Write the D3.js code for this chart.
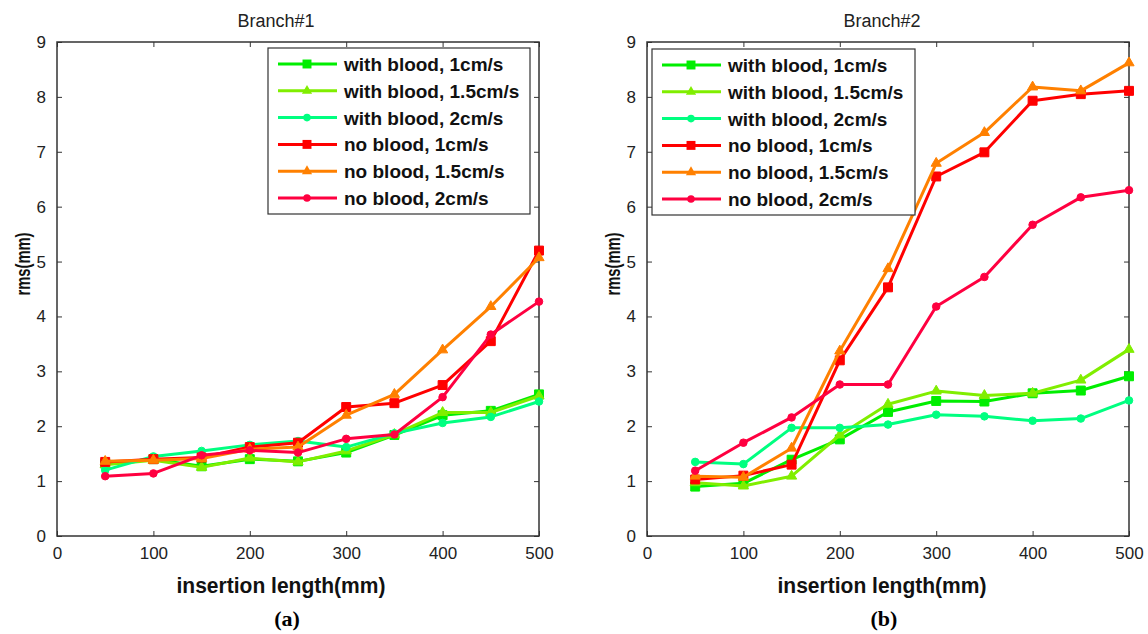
<!DOCTYPE html>
<html>
<head>
<meta charset="utf-8">
<script src="https://cdn.jsdelivr.net/npm/d3@7"></script>
<style>
  body { margin: 0; background: #fff; }
  text { font-family: Arial, "Liberation Sans", sans-serif; }
</style>
</head>
<body>
<div id="chart"></div>
<script>
// insertion length (mm)
var lengths = [50, 100, 150, 200, 250, 300, 350, 400, 450, 500];

var seriesNames = ["with blood, 1cm/s", "with blood, 1.5cm/s", "with blood, 2cm/s",
                   "no blood, 1cm/s", "no blood, 1.5cm/s", "no blood, 2cm/s"];
var seriesColors = ["#00ee00", "#80ee00", "#00ff80", "#ff0000", "#ff8000", "#ff0040"];
var seriesShapes = ["square", "triangle", "circle", "square", "triangle", "circle"];

// Branch#1 rms (mm)
var b1WithBlood1 = [1.32, 1.40, 1.27, 1.40, 1.36, 1.52, 1.84, 2.20, 2.28, 2.58];
var b1WithBlood15 = [1.30, 1.38, 1.25, 1.42, 1.35, 1.55, 1.85, 2.25, 2.25, 2.55];
var b1WithBlood2 = [1.20, 1.45, 1.55, 1.66, 1.73, 1.62, 1.87, 2.06, 2.17, 2.45];
var b1NoBlood1 = [1.35, 1.40, 1.43, 1.62, 1.70, 2.35, 2.42, 2.75, 3.55, 5.20];
var b1NoBlood15 = [1.36, 1.38, 1.41, 1.58, 1.62, 2.20, 2.58, 3.39, 4.18, 5.07];
var b1NoBlood2 = [1.09, 1.14, 1.47, 1.56, 1.52, 1.77, 1.85, 2.53, 3.67, 4.27];

// Branch#2 rms (mm)
var b2WithBlood1 = [0.90, 0.96, 1.39, 1.76, 2.26, 2.46, 2.45, 2.60, 2.65, 2.91];
var b2WithBlood15 = [0.97, 0.91, 1.09, 1.84, 2.40, 2.64, 2.56, 2.60, 2.84, 3.40];
var b2WithBlood2 = [1.35, 1.31, 1.97, 1.97, 2.03, 2.21, 2.18, 2.10, 2.14, 2.47];
var b2NoBlood1 = [1.03, 1.10, 1.30, 3.20, 4.53, 6.55, 6.99, 7.93, 8.05, 8.11];
var b2NoBlood15 = [1.09, 1.07, 1.60, 3.37, 4.87, 6.79, 7.35, 8.18, 8.11, 8.62];
var b2NoBlood2 = [1.19, 1.70, 2.16, 2.76, 2.76, 4.18, 4.72, 5.67, 6.17, 6.30];

var xTicks = [0, 100, 200, 300, 400, 500];
var yTicks = [0, 1, 2, 3, 4, 5, 6, 7, 8, 9];

var svg = d3.select("#chart")
  .append("svg")
  .attr("width", 1148)
  .attr("height", 634);

function shapeFor(name) {
  if (name == "square") return d3.symbol().type(d3.symbolSquare).size(80)();
  if (name == "triangle") return d3.symbol().type(d3.symbolTriangle).size(45)();
  return d3.symbol().type(d3.symbolCircle).size(45)();
}

function drawPanel(opts) {
  var left = opts.left, top = opts.top, width = 482, height = 494;
  var g = svg.append("g").attr("transform", "translate(" + left + "," + top + ")");

  var x = d3.scaleLinear().domain([0, 500]).range([0, width]);
  var y = d3.scaleLinear().domain([0, 9]).range([height, 0]);

  // title
  g.append("text")
    .attr("x", opts.titleX).attr("y", -15)
    .attr("text-anchor", "middle")
    .style("font-size", "18px")
    .attr("fill", "#222")
    .text(opts.title);

  // axes: ticks inside, box on four sides
  var tickStyle = function(sel) {
    sel.select(".domain").remove();
    sel.selectAll(".tick line").attr("stroke", "#333");
    sel.selectAll(".tick text").style("font-size", "17px").attr("fill", "#222");
  };
  g.append("g").attr("transform", "translate(0," + height + ")")
    .call(d3.axisBottom(x).tickValues(xTicks).tickSizeInner(-5).tickSizeOuter(0).tickPadding(11))
    .call(tickStyle);
  g.append("g")
    .call(d3.axisTop(x).tickValues(xTicks).tickSizeInner(-5).tickSizeOuter(0).tickFormat(""))
    .call(tickStyle);
  g.append("g")
    .call(d3.axisLeft(y).tickValues(yTicks).tickSizeInner(-5).tickSizeOuter(0).tickPadding(11))
    .call(tickStyle);
  g.append("g").attr("transform", "translate(" + width + ",0)")
    .call(d3.axisRight(y).tickValues(yTicks).tickSizeInner(-5).tickSizeOuter(0).tickFormat(""))
    .call(tickStyle);
  g.append("rect")
    .attr("width", width).attr("height", height)
    .attr("fill", "none").attr("stroke", "#333").attr("stroke-width", 1.5);

  // axis labels
  g.append("text")
    .attr("x", opts.labelX).attr("y", height + 57)
    .attr("text-anchor", "middle")
    .attr("textLength", 209).attr("lengthAdjust", "spacingAndGlyphs")
    .style("font-size", "22px").style("font-weight", "bold")
    .attr("fill", "#111")
    .text("insertion length(mm)");
  g.append("text")
    .attr("transform", "translate(-27,222) rotate(-90) scale(0.7,1)")
    .attr("text-anchor", "middle")
    .style("font-size", "21px").style("font-weight", "bold")
    .attr("fill", "#111")
    .text("rms(mm)");
  g.append("text")
    .attr("x", opts.captionX).attr("y", height + 90)
    .attr("text-anchor", "middle")
    .style("font-family", "'Liberation Serif', 'Times New Roman', serif")
    .style("font-size", "22px").style("font-weight", "bold")
    .text(opts.caption);

  var line = d3.line()
    .x(function(d, i) { return x(lengths[i]); })
    .y(function(d) { return y(d); });

  opts.series.forEach(function(vals, k) {
    g.append("path")
      .datum(vals)
      .attr("fill", "none")
      .attr("stroke", seriesColors[k])
      .attr("stroke-width", 3)
      .attr("stroke-linejoin", "round")
      .attr("d", line);
    g.append("g")
      .selectAll("path")
      .data(vals)
      .enter()
      .append("path")
      .attr("transform", function(d, i) { return "translate(" + x(lengths[i]) + "," + y(d) + ")"; })
      .attr("d", shapeFor(seriesShapes[k]))
      .attr("fill", seriesColors[k])
      .attr("stroke", seriesColors[k]);
  });

  // legend
  var lg = g.append("g").attr("transform", "translate(" + opts.legend[0] + "," + opts.legend[1] + ")");
  lg.append("rect")
    .attr("width", opts.legend[2]).attr("height", 166)
    .attr("fill", "#fff").attr("stroke", "#333").attr("stroke-width", 1.2);
  seriesNames.forEach(function(name, k) {
    var yy = 16 + k * 26.8;
    lg.append("line")
      .attr("x1", 10).attr("x2", 69).attr("y1", yy).attr("y2", yy)
      .attr("stroke", seriesColors[k]).attr("stroke-width", 3);
    lg.append("path")
      .attr("transform", "translate(39," + yy + ")")
      .attr("d", shapeFor(seriesShapes[k]))
      .attr("fill", seriesColors[k]);
    lg.append("text")
      .attr("x", 76).attr("y", yy + 7)
      .style("font-size", "19px").style("font-weight", "bold")
      .attr("fill", "#111")
      .text(name);
  });
}

drawPanel({
  left: 57, top: 42, title: "Branch#1", caption: "(a)",
  titleX: 219, labelX: 224, captionX: 230,
  legend: [211, 6, 262],
  series: [b1WithBlood1, b1WithBlood15, b1WithBlood2, b1NoBlood1, b1NoBlood15, b1NoBlood2]
});
drawPanel({
  left: 647, top: 42, title: "Branch#2", caption: "(b)",
  titleX: 235, labelX: 235, captionX: 237,
  legend: [5, 7, 263],
  series: [b2WithBlood1, b2WithBlood15, b2WithBlood2, b2NoBlood1, b2NoBlood15, b2NoBlood2]
});
</script>
</body>
</html>
